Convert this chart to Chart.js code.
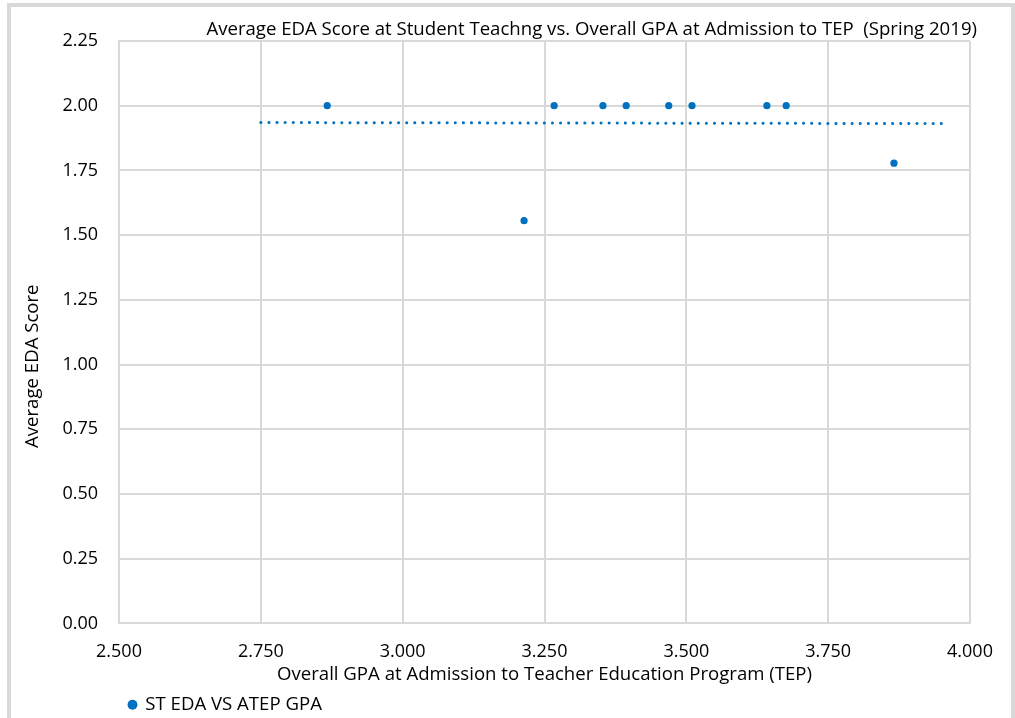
<!DOCTYPE html>
<html>
<head>
<meta charset="utf-8">
<script src="https://cdn.jsdelivr.net/npm/chart.js@4.4.1/dist/chart.umd.min.js"></script>
<style>
  html, body { margin: 0; padding: 0; background: #fff; }
  #frame { position: absolute; left: 7px; top: 3px; width: 1008px; height: 730px; border: 4px solid #d9d9d9; box-sizing: border-box; }
  #chart { position: absolute; left: 0; top: 0; }
</style>
</head>
<body>
<div id="frame"></div>
<canvas id="chart" width="1015" height="718"></canvas>
<script>
// Data
const gpa = [2.867, 3.214, 3.267, 3.353, 3.394, 3.469, 3.510, 3.642, 3.676, 3.866];
const eda = [2.00, 1.556, 2.00, 2.00, 2.00, 2.00, 2.00, 2.00, 2.00, 1.778];

// Linear trendline end points (as drawn in the reference)
const trendX = [2.75, 3.95];
const trendY = [1.935, 1.931];

const xTicks = [2.5, 4.0, 0.25];   // min, max, step
const yTicks = [0, 2.25, 0.25];

const blue = '#0070C0';
const grid = '#d9d9d9';
const fontFamily = '"Open Sans", "Noto Sans", sans-serif';
const textSize = 18.6;
const tickSize = 18;

// Title and y-axis title sit off-centre in the reference, so draw them by hand
const textPlugin = {
    id: 'offsetTitles',
    afterDraw(chart) {
        const ctx = chart.ctx;
        const area = chart.chartArea;
        ctx.save();
        ctx.font = textSize + 'px ' + fontFamily;
        ctx.fillStyle = '#000';
        ctx.textAlign = 'right';
        ctx.textBaseline = 'middle';
        ctx.fillText('Average EDA Score at Student Teachng vs. Overall GPA at Admission to TEP  (Spring 2019)', area.right + 7, area.top - 11);
        ctx.translate(33, (area.top + area.bottom) / 2 + 34);
        ctx.rotate(-Math.PI / 2);
        ctx.textAlign = 'center';
        ctx.fillText('Average EDA Score', 0, 0);
        ctx.restore();
    }
};

const ctx = document.getElementById('chart').getContext('2d');
const chart = new Chart(ctx, {
    type: 'scatter',
    data: {
        datasets: [{
            label: 'ST EDA VS ATEP GPA',
            data: gpa.map((g, i) => ({ x: g, y: eda[i] })),
            backgroundColor: blue,
            borderColor: blue,
            pointRadius: 3.6,
            pointHoverRadius: 3.6,
            borderWidth: 0,
        }, {
            label: 'trend',
            type: 'line',
            data: trendX.map((t, i) => ({ x: t, y: trendY[i] })),
            borderColor: blue,
            borderWidth: 3,
            borderCapStyle: 'round',
            borderDash: [0.1, 8],
            pointRadius: 0,
            fill: false,
        }]
    },
    options: {
        responsive: false,
        animation: false,
        layout: { padding: { left: 12, right: 45, top: 41, bottom: -6 } },
        plugins: {
            title: { display: false },
            tooltip: { enabled: false },
            legend: {
                position: 'bottom',
                align: 'start',
                fullSize: false,
                labels: {
                    usePointStyle: true,
                    pointStyle: 'circle',
                    boxWidth: 7,
                    boxHeight: 7,
                    color: '#000',
                    font: { family: fontFamily, size: textSize },
                    filter: item => item.text !== 'trend',
                }
            }
        },
        scales: {
            x: {
                type: 'linear',
                min: xTicks[0],
                max: xTicks[1],
                grid: { color: grid, lineWidth: 2, drawTicks: false },
                border: { color: grid, width: 2 },
                ticks: {
                    stepSize: xTicks[2],
                    padding: 18,
                    color: '#000',
                    font: { family: fontFamily, size: tickSize },
                    callback: v => v.toFixed(3),
                },
                title: {
                    display: true,
                    text: 'Overall GPA at Admission to Teacher Education Program (TEP)',
                    color: '#000',
                    font: { family: fontFamily, size: textSize },
                    padding: { top: 0, bottom: 0 },
                },
                afterFit: s => { s.height = 62; }
            },
            y: {
                type: 'linear',
                min: yTicks[0],
                max: yTicks[1],
                grid: { color: grid, lineWidth: 2, drawTicks: false },
                border: { color: grid, width: 2 },
                ticks: {
                    stepSize: yTicks[2],
                    padding: 21,
                    color: '#000',
                    font: { family: fontFamily, size: tickSize },
                    callback: v => v.toFixed(2),
                },
                title: { display: false },
                afterFit: s => { s.width = 107; }
            }
        }
    },
    plugins: [textPlugin]
});
</script>
</body>
</html>
